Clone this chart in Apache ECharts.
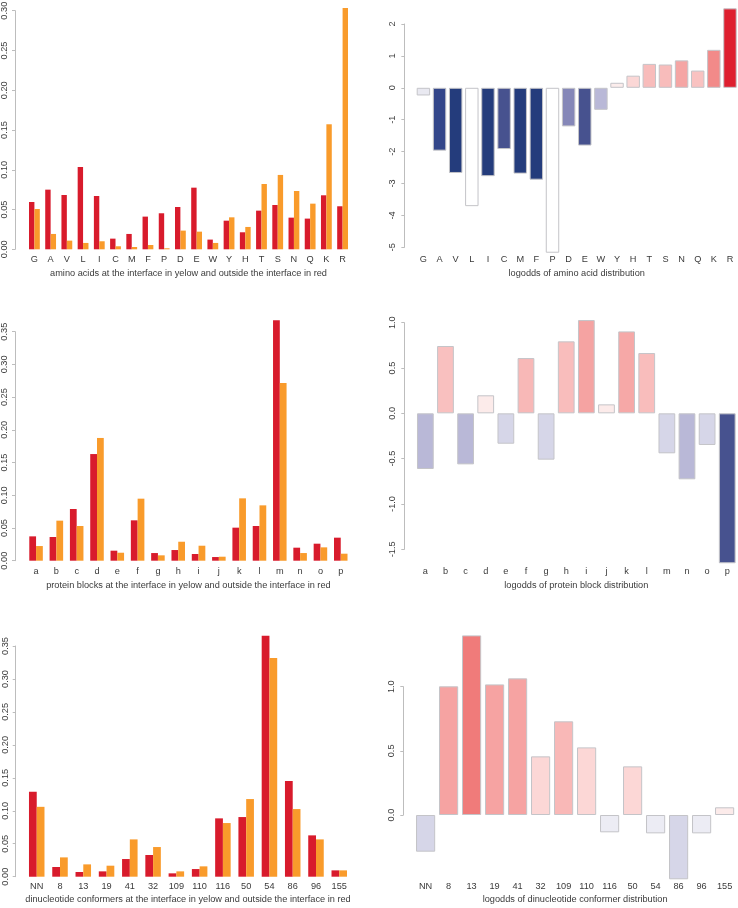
<!DOCTYPE html>
<html>
<head>
<meta charset="utf-8">
<script src="https://cdn.jsdelivr.net/npm/echarts@6/dist/echarts.min.js"></script>
<style>
html,body{margin:0;padding:0;background:#ffffff;}
#chart{width:738px;height:908px;}
</style>
</head>
<body>
<div id="chart"></div>
<script>
// ---------- DATA ----------
const aaCats = ['G','A','V','L','I','C','M','F','P','D','E','W','Y','H','T','S','N','Q','K','R'];
const aaOutside = [0.0595,0.075,0.0683,0.1035,0.067,0.0134,0.0193,0.0411,0.0453,0.0532,0.0775,0.0122,0.036,0.0214,0.0486,0.0557,0.0398,0.0386,0.0679,0.0541];
const aaInterface = [0.0507,0.0193,0.0109,0.008,0.0101,0.0038,0.0029,0.0054,0.0013,0.0235,0.0222,0.008,0.0402,0.0281,0.0821,0.0935,0.0733,0.0574,0.1572,0.3034];
const aaLogodds = [-0.24,-1.97,-2.67,-3.71,-2.77,-1.92,-2.69,-2.88,-5.17,-1.21,-1.81,-0.69,0.157,0.38,0.75,0.73,0.86,0.54,1.19,2.49];
const aaColors = ['#E9E9F1','#33468A','#243C7C','#FFFFFF','#243C7C','#47528F','#243C7C','#243C7C','#FFFFFF','#8587B8','#47528F','#B9B8D7','#FCEDEC','#FBD7D6','#F8BCBB','#F8BCBB','#F5A5A4','#F9C2C1','#F28A89','#DE1F2F'];

const pbCats = ['a','b','c','d','e','f','g','h','i','j','k','l','m','n','o','p'];
const pbOutside = [0.0372,0.0362,0.079,0.163,0.0153,0.0617,0.0117,0.0163,0.0102,0.0056,0.0505,0.053,0.3675,0.0199,0.026,0.0352];
const pbInterface = [0.0224,0.0612,0.053,0.1876,0.0122,0.0948,0.0082,0.029,0.0229,0.0061,0.0953,0.0846,0.2717,0.0117,0.0204,0.0107];
const pbLogodds = [-0.614,0.743,-0.563,0.199,-0.335,0.61,-0.511,0.794,1.029,0.099,0.904,0.665,-0.441,-0.728,-0.349,-1.654];
const pbColors = ['#B9B8D7','#F9C0BF','#B9B8D7','#FCEBEA','#D6D6E8','#F8B8B7','#D6D6E8','#F9BDBC','#F5A3A2','#FCEBEA','#F6A8A7','#F9BDBC','#D6D6E8','#B9B8D7','#D6D6E8','#47528F'];

const dnCats = ['NN','8','13','19','41','32','109','110','116','50','54','86','96','155'];
const dnOutside = [0.129,0.0147,0.0071,0.0081,0.0268,0.0329,0.0051,0.0116,0.0885,0.0905,0.3655,0.1451,0.0627,0.0096];
const dnInterface = [0.106,0.0293,0.0187,0.0167,0.0566,0.045,0.0081,0.0157,0.0814,0.1178,0.3317,0.1026,0.0566,0.0096];
const dnLogodds = [-0.286,1.003,1.40,1.018,1.065,0.457,0.73,0.527,-0.135,0.379,-0.143,-0.501,-0.143,0.06];
const dnColors = ['#D6D6E8','#F6A3A2','#F07B7A','#F6A3A2','#F6A3A2','#FCD7D6','#F9B8B7','#FCD7D6','#ECECF4','#FCD7D6','#ECECF4','#D6D6E8','#ECECF4','#FCEBEA'];

const titles = [
  'amino acids at the interface in yelow and outside the interface in red',
  'logodds of amino acid distribution',
  'protein blocks at the interface in yelow and outside the interface in red',
  'logodds of protein block distribution',
  'dinucleotide conformers at the interface in yelow and outside the interface in red',
  'logodds of dinucleotide conformer distribution'
];

// ---------- LAYOUT / STYLE ----------
const FONT = 'Liberation Sans, Arial, sans-serif';
const FS = 9.2;
const TXT = '#3a3a3a';
const AX = '#BDBDBD';
const RED = '#D81B2C';
const ORANGE = '#F99B2B';

const panels = [
  {grid:{left:26.3, top:10.7, width:324.4, height:238.6}, cats:aaCats, min:0, max:0.30, interval:0.05, dec:2, off:11.3, lm:6, xm:5.2, ng:19.2, kind:'pair', a:aaOutside, b:aaInterface},
  {grid:{left:415.35, top:24, width:322.7, height:223.3}, cats:aaCats, min:-5, max:2, interval:1, dec:0, off:11, lm:7.5, xm:7.5, ng:21.5, kind:'single', v:aaLogodds, c:aaColors},
  {grid:{left:25.9, top:331.7, width:325, height:229}, cats:pbCats, min:0, max:0.35, interval:0.05, dec:2, off:10.9, lm:6, xm:6.5, ng:19.8, kind:'pair', a:pbOutside, b:pbInterface},
  {grid:{left:415.3, top:322.7, width:322, height:226.6}, cats:pbCats, min:-1.5, max:1.0, interval:0.5, dec:1, off:11, lm:7.5, xm:17.9, ng:31.2, kind:'single', v:pbLogodds, c:pbColors},
  {grid:{left:25.1, top:646, width:325.8, height:230.7}, cats:dnCats, min:0, max:0.35, interval:0.05, dec:2, off:9.4, lm:6, xm:5.1, ng:18.5, kind:'pair', a:dnOutside, b:dnInterface},
  {grid:{left:414.1, top:686.7, width:322, height:128.3}, cats:dnCats, min:0, max:1.0, interval:0.5, dec:1, off:10.8, lm:7.5, xm:66.8, ng:80.2, kind:'single', v:dnLogodds, c:dnColors}
];

const grid = [], xAxis = [], yAxis = [], series = [];
panels.forEach((p, i) => {
  grid.push(Object.assign({containLabel:false, outerBoundsMode:'none'}, p.grid));
  xAxis.push({
    type:'category', gridIndex:i, data:p.cats,
    axisLine:{show:false, onZero:false}, axisTick:{show:false},
    axisLabel:{interval:0, margin:p.xm, color:TXT, fontSize:FS, fontFamily:FONT},
    name:titles[i], nameLocation:'middle', nameGap:p.ng,
    nameTextStyle:{color:TXT, fontSize:FS, fontFamily:FONT},
    splitLine:{show:false}
  });
  yAxis.push({
    type:'value', gridIndex:i, min:p.min, max:p.max, interval:p.interval, offset:p.off,
    axisLine:{show:true, lineStyle:{color:AX, width:1}},
    axisTick:{show:true, length:3, lineStyle:{color:AX}},
    splitLine:{show:false},
    axisLabel:{rotate:90, margin:p.lm, color:TXT, fontSize:FS, fontFamily:FONT,
      formatter: v => { const r = Math.round(v / p.interval) * p.interval; const s = (Math.abs(r) < 1e-9 ? 0 : r).toFixed(p.dec); return s; }}
  });
  if (p.kind === 'pair') {
    series.push({type:'bar', xAxisIndex:i, yAxisIndex:i, data:p.a, clip:false,
      barGap:'0%', barCategoryGap:'33.33%', itemStyle:{color:RED}, emphasis:{disabled:true}, animation:false});
    series.push({type:'bar', xAxisIndex:i, yAxisIndex:i, data:p.b, clip:false,
      barGap:'0%', barCategoryGap:'33.33%', itemStyle:{color:ORANGE}, emphasis:{disabled:true}, animation:false});
  } else {
    series.push({type:'bar', xAxisIndex:i, yAxisIndex:i, clip:false,
      barCategoryGap:'16.67%',
      data:p.v.map((val, k) => ({value:val, itemStyle:{color:p.c[k], borderColor:'#C4C4C8', borderWidth:1}})),
      emphasis:{disabled:true}, animation:false});
  }
});

const chart = echarts.init(document.getElementById('chart'), null, {renderer:'canvas'});
chart.setOption({
  backgroundColor:'#ffffff',
  animation:false,
  textStyle:{fontFamily:FONT},
  grid, xAxis, yAxis, series
});
</script>
</body>
</html>
